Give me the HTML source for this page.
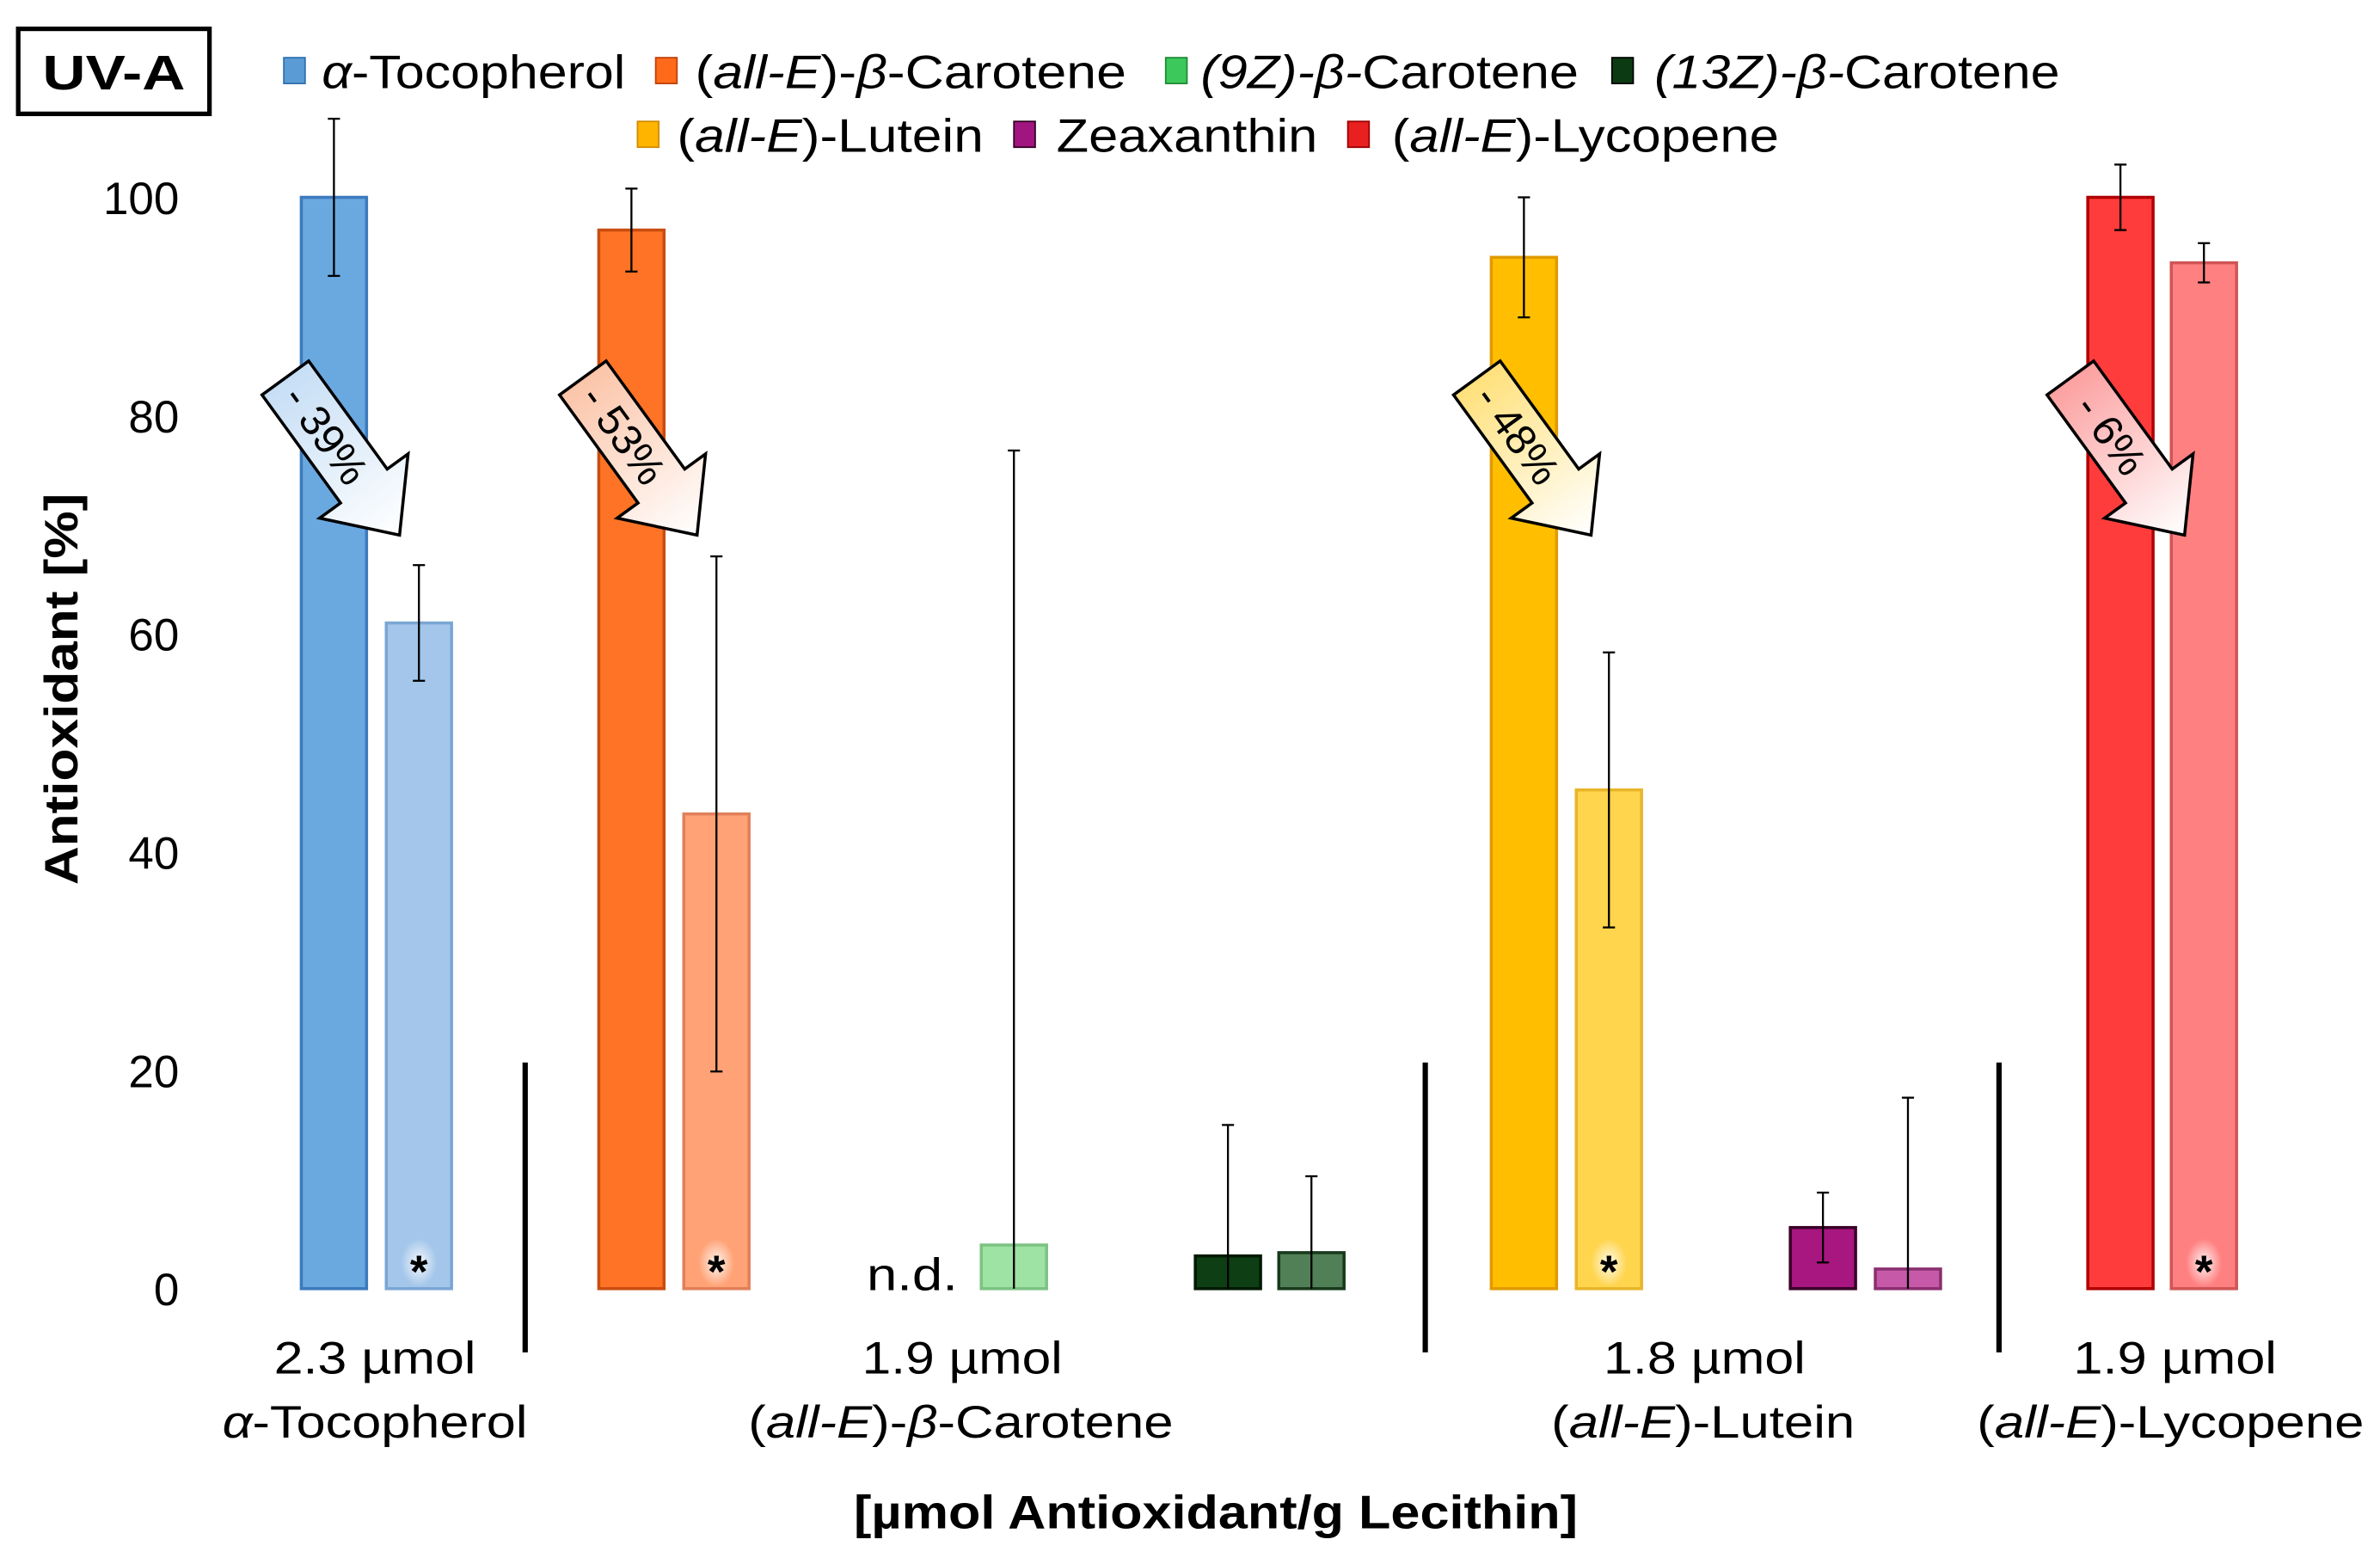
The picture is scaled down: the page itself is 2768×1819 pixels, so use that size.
<!DOCTYPE html>
<html><head><meta charset="utf-8"><style>
html,body{margin:0;padding:0;background:#fff;}
svg{display:block;font-family:"Liberation Sans",Arial,sans-serif;}
</style></head><body>
<svg id="chart" width="2768" height="1819" viewBox="0 0 1568 1030.4" preserveAspectRatio="none" xmlns="http://www.w3.org/2000/svg">
<defs>
<linearGradient id="gBlue" x1="0" x2="1"><stop offset="0" stop-color="#c6def5"/><stop offset="1" stop-color="#ffffff"/></linearGradient>
<linearGradient id="gOrange" x1="0" x2="1"><stop offset="0" stop-color="#fbc4a8"/><stop offset="1" stop-color="#ffffff"/></linearGradient>
<linearGradient id="gYellow" x1="0" x2="1"><stop offset="0" stop-color="#ffe07a"/><stop offset="1" stop-color="#ffffff"/></linearGradient>
<linearGradient id="gRed" x1="0" x2="1"><stop offset="0" stop-color="#fca0a0"/><stop offset="1" stop-color="#ffffff"/></linearGradient>
<radialGradient id="glow"><stop offset="0" stop-color="#ffffff" stop-opacity="0.9"/><stop offset="1" stop-color="#ffffff" stop-opacity="0"/></radialGradient>
</defs>
<g id="marks"></g>
<g>
<rect x="12" y="19" width="126" height="56" fill="#fff" stroke="#000" stroke-width="3"/>
<text x="75" y="59" text-anchor="middle" font-size="32" font-weight="bold" textLength="94" lengthAdjust="spacingAndGlyphs">UV-A</text>
</g>
<g font-size="31">
<g><rect x="187" y="38" width="14" height="17" fill="#5b9bd5" stroke="#2e6fae"/><text x="212" y="58" textLength="200" lengthAdjust="spacingAndGlyphs"><tspan font-style="italic">α</tspan>-Tocopherol</text></g>
<g><rect x="432" y="38" width="14" height="17" fill="#ff6a1a" stroke="#c0400a"/><text x="458" y="58" textLength="284" lengthAdjust="spacingAndGlyphs">(<tspan font-style="italic">all-E</tspan>)-<tspan font-style="italic">β</tspan>-Carotene</text></g>
<g><rect x="768" y="38" width="14" height="17" fill="#3cc85a" stroke="#1f8a35"/><text x="791" y="58" font-style="italic" textLength="249" lengthAdjust="spacingAndGlyphs">(9Z)-β-<tspan font-style="normal">Carotene</tspan></text></g>
<g><rect x="1062" y="38" width="14" height="17" fill="#0c3a12" stroke="#000"/><text x="1090" y="58" font-style="italic" textLength="267" lengthAdjust="spacingAndGlyphs">(13Z)-β-<tspan font-style="normal">Carotene</tspan></text></g>
<g><rect x="420" y="80" width="14" height="17" fill="#ffb400" stroke="#d08a00"/><text x="446" y="100" textLength="202" lengthAdjust="spacingAndGlyphs">(<tspan font-style="italic">all-E</tspan>)-Lutein</text></g>
<g><rect x="668" y="80" width="14" height="17" fill="#a0157f" stroke="#300020"/><text x="696" y="100" textLength="172" lengthAdjust="spacingAndGlyphs">Zeaxanthin</text></g>
<g><rect x="888" y="80" width="14" height="17" fill="#e82020" stroke="#900"/><text x="917" y="100" textLength="255" lengthAdjust="spacingAndGlyphs">(<tspan font-style="italic">all-E</tspan>)-Lycopene</text></g>
</g>
<text transform="translate(51,454) rotate(-90)" text-anchor="middle" font-size="31" font-weight="bold" textLength="258" lengthAdjust="spacingAndGlyphs">Antioxidant [%]</text>
<g id="yticks" font-size="30"></g>
<g font-size="30" text-anchor="middle">
<text x="247" y="905" textLength="133" lengthAdjust="spacingAndGlyphs">2.3 µmol</text>
<text x="247" y="947" textLength="201" lengthAdjust="spacingAndGlyphs"><tspan font-style="italic">α</tspan>-Tocopherol</text>
<text x="634" y="905" textLength="132" lengthAdjust="spacingAndGlyphs">1.9 µmol</text>
<text x="633" y="947" textLength="280" lengthAdjust="spacingAndGlyphs">(<tspan font-style="italic">all-E</tspan>)-<tspan font-style="italic">β</tspan>-Carotene</text>
<text x="1123" y="905" textLength="133" lengthAdjust="spacingAndGlyphs">1.8 µmol</text>
<text x="1122" y="947" textLength="200" lengthAdjust="spacingAndGlyphs">(<tspan font-style="italic">all-E</tspan>)-Lutein</text>
<text x="1433" y="905" textLength="134" lengthAdjust="spacingAndGlyphs">1.9 µmol</text>
<text x="1430" y="947" textLength="255" lengthAdjust="spacingAndGlyphs">(<tspan font-style="italic">all-E</tspan>)-Lycopene</text>
</g>
<text x="801" y="1007" text-anchor="middle" font-size="31" font-weight="bold" textLength="477" lengthAdjust="spacingAndGlyphs">[µmol Antioxidant/g Lecithin]</text>
<g stroke="#000" stroke-width="3.5">
<line x1="346" y1="700" x2="346" y2="891"/>
<line x1="939" y1="700" x2="939" y2="891"/>
<line x1="1317" y1="700" x2="1317" y2="891"/>
</g>
<text x="601" y="850" text-anchor="middle" font-size="30" textLength="60" lengthAdjust="spacingAndGlyphs">n.d.</text>
<g id="arrows"></g>
</svg>
<script>
const barNames = ["alpha-tocopherol-before","alpha-tocopherol-after","beta-carotene-before","beta-carotene-after","9z-beta-carotene-before","9z-beta-carotene-after","13z-beta-carotene-before","13z-beta-carotene-after","lutein-before","lutein-after","zeaxanthin-before","zeaxanthin-after","lycopene-before","lycopene-after"];
const barValues = [100, 61, 97, 43.5, null, 4, 3, 3.3, 94.5, 45.7, 5.6, 1.8, 100, 94];
const barErrors = [7.2, 5.3, 3.8, 23.6, null, 72.8, 12, 7, 5.5, 12.6, 3.2, 15.7, 3, 1.8];
const barCenters = [220, 276, 416, 472, 612, 668, 809, 864, 1004, 1060, 1201, 1257, 1397, 1452];
const barFills = ["#6aa8e0","#a3c6ea","#ff7326","#ffa275","#56c96a","#9ee3a3","#0e3e14","#517f56","#ffbf00","#ffd54d","#a8167f","#c65aa8","#ff3c3c","#ff8080"];
const barStrokes = ["#3b7bbd","#7aa6d3","#c94d10","#e0805a","#2a8a3a","#7cc283","#001a00","#183a1c","#e09a00","#e8b52a","#3a0028","#8a2f70","#b00000","#d05555"];
const significant = [false,true,false,true,false,false,false,false,false,true,false,false,false,true];
const yTicks = [0, 20, 40, 60, 80, 100];
const arrowLabels = ["- 39%","- 53%","- 48%","- 6%"];
const arrowFills = ["url(#gBlue)","url(#gOrange)","url(#gYellow)","url(#gRed)"];
const arrowTails = [[188,249],[384,249],[973,249],[1364,249]];

const Y0 = 849, Y100 = 130;
function yScale(v){ return Y0 + (Y100 - Y0) * v / 100; }
const NS = "http://www.w3.org/2000/svg";
function mk(tag, attrs){ const e = document.createElementNS(NS, tag); for (const k in attrs) e.setAttribute(k, attrs[k]); return e; }
const BW = 43;

const ytg = document.getElementById('yticks');
yTicks.forEach(t => {
  const tx = mk('text', {x: 118, y: yScale(t) + 11, 'text-anchor': 'end'});
  
  
  tx.textContent = t;
  ytg.appendChild(tx);
});

const mg = document.getElementById('marks');
barValues.forEach((v, i) => {
  if (v === null) return;
  const cx = barCenters[i];
  const top = yScale(v);
  const r = mk('rect', {x: cx - BW/2, y: top, width: BW, height: Y0 - top, fill: barFills[i], stroke: barStrokes[i], 'stroke-width': 2});
  
  
  mg.appendChild(r);
  const e = barErrors[i];
  const et = yScale(v + e), eb = Math.min(Y0, yScale(v - e));
  const eg = mk('g', {stroke: '#000', 'stroke-width': 1.3});
  
  
  eg.appendChild(mk('line', {x1: cx, y1: et, x2: cx, y2: eb}));
  eg.appendChild(mk('line', {x1: cx - 4, y1: et, x2: cx + 4, y2: et}));
  if (eb < Y0) eg.appendChild(mk('line', {x1: cx - 4, y1: eb, x2: cx + 4, y2: eb}));
  mg.appendChild(eg);
  if (significant[i]) {
    mg.appendChild(mk('ellipse', {cx: cx, cy: 832, rx: 12, ry: 16, fill: 'url(#glow)'}));
    const s = mk('text', {x: cx, y: 848, 'text-anchor': 'middle', 'font-size': 30, 'font-weight': 'bold'});
    
    
    s.textContent = '*';
    mg.appendChild(s);
  }
});

const ag = document.getElementById('arrows');
arrowLabels.forEach((lab, i) => {
  const [tx, ty] = arrowTails[i];
  const g = mk('g', {transform: 'translate(' + tx + ',' + ty + ') rotate(54)'});
  
  
  g.appendChild(mk('polygon', {points: '0,-19 88,-19 88,-36 128,0 88,36 88,19 0,19', fill: arrowFills[i], stroke: '#000', 'stroke-width': 2}));
  const t = mk('text', {x: 46, y: 10, 'text-anchor': 'middle', 'font-size': 28});
  t.textContent = lab;
  g.appendChild(t);
  ag.appendChild(g);
});
</script>
</body></html>
